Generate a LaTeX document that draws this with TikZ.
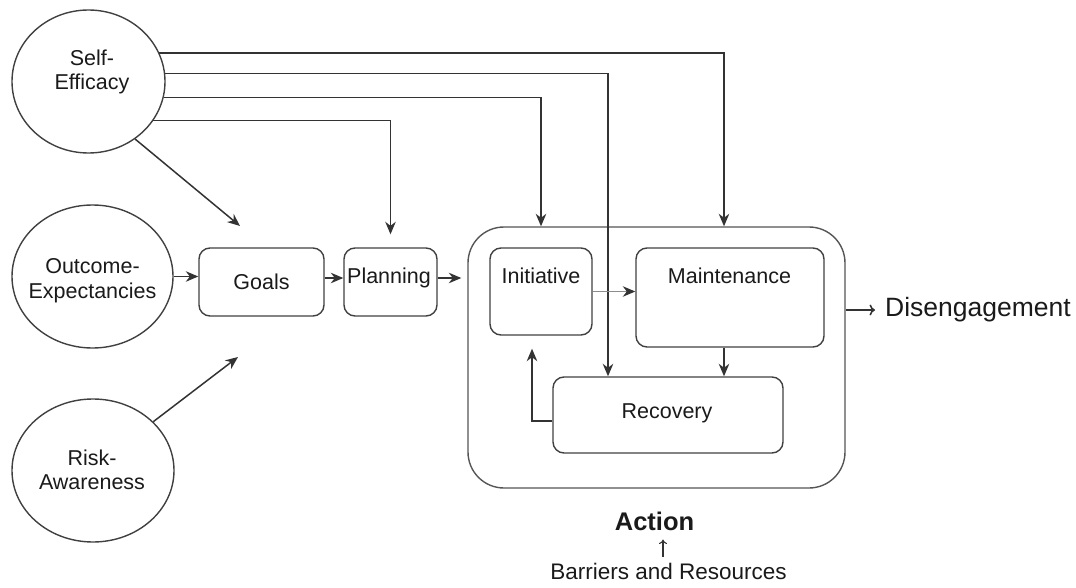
\documentclass[tikz,border=0pt]{standalone}
\usepackage{fontspec}
\setmainfont{Liberation Sans}
\usetikzlibrary{arrows.meta,shapes.geometric}
\definecolor{ln}{HTML}{333333}
\definecolor{bx}{HTML}{404040}
\definecolor{obx}{HTML}{555555}
\definecolor{tx}{HTML}{1A1A1A}
\definecolor{lt}{HTML}{8C8C8C}
\begin{document}
\begin{tikzpicture}[x=1pt,y=-1pt,
  every node/.style={text=tx},
  txt/.style={font=\fontsize{21.5}{24.5}\selectfont, inner sep=0pt, align=center},
  ell/.style={ellipse, draw=bx, line width=1.4pt, inner sep=0pt},
  rbox/.style={draw=bx, line width=1.4pt, rounded corners=11pt, inner sep=0pt},
  arr/.style={draw=ln, line width=1.5pt, -{Stealth[length=12.5pt,width=10.5pt,inset=4pt]}},
  openarr/.style={draw=ln, line width=1.6pt, -{To[length=5.5pt,width=11pt]}},
]
\path[use as bounding box] (0,0) rectangle (1076,588);

% ellipses
\node[ell, minimum width=153, minimum height=143] (se) at (88.5,81.5) {};
\node[txt] (setext) at (92,72) {Self-\\Efficacy};
\node[ell, minimum width=161, minimum height=143] (oe) at (92.5,276.5) {};
\node[txt] (oetext) at (92.5,280.5) {Outcome-\\Expectancies};
\node[ell, minimum width=162, minimum height=143] (ra) at (93,470.5) {};
\node[txt] (ratext) at (92,470) {Risk-\\Awareness};

% goals and planning
\node[rbox, txt, minimum width=125, minimum height=68] (goals) at (261.5,282) {Goals};
\node[rbox, minimum width=93, minimum height=68] (plan) at (390.5,282) {};
\node[txt] (plantext) at (389,278) {Planning};

% action block
\node[draw=obx, line width=1.4pt, rounded corners=36pt, minimum width=377, minimum height=261, inner sep=0pt] (act) at (656.5,357.5) {};
\node[rbox, minimum width=102, minimum height=87] (init) at (541,291.5) {};
\node[txt] (inittext) at (541,275.5) {Initiative};
\node[rbox, minimum width=188, minimum height=99] (maint) at (730,297.5) {};
\node[txt] (mainttext) at (729.5,275.5) {Maintenance};
\node[rbox, minimum width=230, minimum height=76] (rec) at (668,415) {};
\node[txt] (rectext) at (667,413) {Recovery};

% labels
\node[font=\bfseries\fontsize{25.5}{28}\selectfont, inner sep=0pt] (action) at (654.5,521) {Action};
\node[font=\fontsize{22.5}{26}\selectfont, inner sep=0pt] (barriers) at (668.5,571) {Barriers and Resources};
\node[font=\fontsize{26.5}{30}\selectfont, inner sep=0pt, anchor=west] (dis) at (885,310) {Disengagement};

% free ends
\coordinate (gin) at (240,226);
\coordinate (gin2) at (238,357);
\coordinate (m1) at ([xshift=-6pt]maint.north);
\coordinate (r1) at ([xshift=-60pt]rec.north);
\coordinate (aw) at ([xshift=-6pt]act.west);
\coordinate (rw) at ([yshift=-6pt]rec.west);
\coordinate (ib) at ([xshift=-9pt,yshift=-13pt]init.south);

% connectors from Self-Efficacy
\draw[arr] (se.-51) -- (gin);
\draw[arr, shorten >=13pt] (se.-31) -| (plan.north);
\draw[arr] (se.-12.5) -| (init.north |- act.north);
\draw[arr] (se.6.4) -| (r1);
\draw[arr] (se.22) -| (m1 |- act.north);

% risk
\draw[arr] (ra.39.6) -- (gin2);

% main chain
\draw[arr] (oe.east) -- (goals.west |- oe.east);
\draw[arr] (goals.east |- plantext) -- (plan.west |- plantext);
\draw[arr] (plan.east |- plantext) -- (aw |- plantext);

% inside action
\draw[draw=lt, line width=1.3pt, -{Stealth[length=12.5pt,width=10.5pt,inset=4pt,color=ln]}] (init.east) -- (maint.west |- init.east);
\draw[arr] (m1 |- maint.south) -- (m1 |- rec.north);
\draw[arr] (rw) -| (ib);

% outputs
\draw[openarr] (act.east |- dis.west) -- ([xshift=-10pt]dis.west);
\draw[draw=ln, line width=1.1pt, -{To[length=4.5pt,width=8pt]}] ([xshift=-5.5pt,yshift=5.5pt]barriers.north) -- ([xshift=8.5pt,yshift=-9pt]action.south);
\end{tikzpicture}
\end{document}
